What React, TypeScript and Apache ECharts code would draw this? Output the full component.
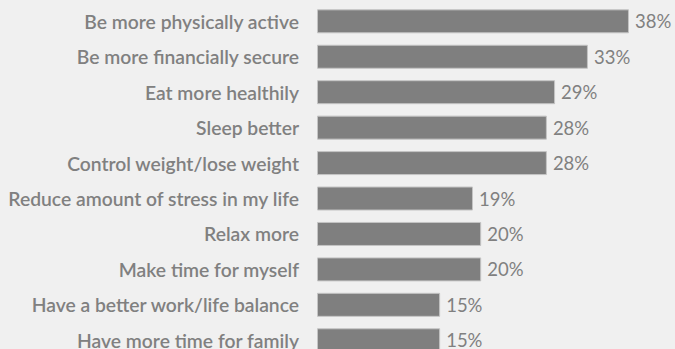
import React, { useEffect, useRef } from "react";
import * as echarts from "echarts";

const categories = [
  "Be more physically active",
  "Be more financially secure",
  "Eat more healthily",
  "Sleep better",
  "Control weight/lose weight",
  "Reduce amount of stress in my life",
  "Relax more",
  "Make time for myself",
  "Have a better work/life balance",
  "Have more time for family",
];
const values = [38, 33, 29, 28, 28, 19, 20, 20, 15, 15];

export default function App() {
  const ref = useRef<HTMLDivElement>(null);
  useEffect(() => {
    if (!ref.current) return;
    const chart = echarts.init(ref.current, null, { renderer: "svg" });
    chart.setOption({
      animation: false,
      backgroundColor: "#f0f0f0",
      grid: { left: 317, right: 675 - 317 - 41 * 8.21, top: 3.6, bottom: 0, containLabel: false },
      xAxis: {
        type: "value",
        min: 0,
        max: 41,
        show: false,
      },
      yAxis: {
        type: "category",
        data: categories,
        inverse: true,
        axisLine: { show: false },
        axisTick: { show: false },
        splitLine: { show: false },
        axisLabel: {
          margin: 18,
          color: "#808080",
          fontFamily: "Lato",
          fontWeight: 600,
          fontSize: 19.3,
        },
      },
      series: [
        {
          type: "bar",
          data: values,
          barWidth: 24,
          itemStyle: { color: "#7f7f7f", borderColor: "#c4c4c4", borderWidth: 1 },
          label: {
            show: true,
            position: "right",
            distance: 6,
            formatter: "{c}%",
            color: "#808080",
            fontFamily: "Lato",
            fontSize: 18.5,
          },
        },
      ],
    });
    return () => chart.dispose();
  }, []);
  return (
    <div
      style={{ position: "fixed", left: 0, top: 0, width: 675, height: 349, overflow: "hidden", background: "#f0f0f0" }}
    >
      <div ref={ref} style={{ width: 675, height: 358.3 }} />
    </div>
  );
}
